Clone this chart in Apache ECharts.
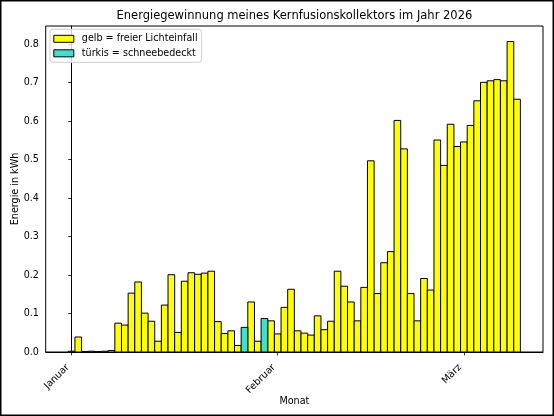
<!DOCTYPE html>
<html>
<head>
<meta charset="utf-8">
<script src="https://cdn.jsdelivr.net/npm/echarts@6/dist/echarts.min.js"></script>
<style>
html, body { margin: 0; padding: 0; background: #fff; }
#chart { width: 554px; height: 416px; }
</style>
</head>
<body>
<div id="chart"></div>
<script>
// Tag 0 = 1. Januar 2026, ein Balken pro Tag bis 9. März
var gelbWerte = [
  0.002, 0.039, 0.001, 0.002, 0.001, 0.002, 0.004, 0.075, 0.070, 0.153,
  0.182, 0.101, 0.080, 0.028, 0.122, 0.201, 0.051, 0.184, 0.206, 0.202,
  0.205, 0.210, 0.079, 0.048, 0.055, 0.017, null, 0.130, 0.028, null,
  0.081, 0.047, 0.116, 0.163, 0.055, 0.049, 0.044, 0.094, 0.058, 0.080,
  0.210, 0.171, 0.130, 0.081, 0.168, 0.497, 0.152, 0.232, 0.261, 0.602,
  0.528, 0.152, 0.081, 0.191, 0.161, 0.551, 0.485, 0.592, 0.534, 0.546,
  0.589, 0.653, 0.701, 0.705, 0.708, 0.705, 0.807, 0.657
];
var tuerkisTage = [26, 29];
var tuerkisWerte = [0.064, 0.087];

var monatTicks = [0, 31, 59];
var monatNamen = ['Januar', 'Februar', 'März'];
var yTicks = [0, 0.1, 0.2, 0.3, 0.4, 0.5, 0.6, 0.7, 0.8];

var font = 'DejaVu Sans';

var gelbDaten = [];
gelbWerte.forEach(function (v, i) {
  if (v !== null) gelbDaten.push([i, v]);
});
var tuerkisDaten = tuerkisTage.map(function (t, i) {
  return [t, tuerkisWerte[i]];
});

// ein Balken ueber genau einen Tag, von 0 bis Wert
function tagesBalken(farbe) {
  return function (params, api) {
    var tag = api.value(0);
    var unten = api.coord([tag - 0.5, 0]);
    var oben = api.coord([tag + 0.5, api.value(1)]);
    return {
      type: 'rect',
      shape: { x: unten[0], y: oben[1], width: oben[0] - unten[0], height: unten[1] - oben[1] },
      style: { fill: farbe, stroke: '#000', lineWidth: 1 }
    };
  };
}

var chart = echarts.init(document.getElementById('chart'));

chart.setOption({
  animation: false,
  backgroundColor: '#fff',
  textStyle: { fontFamily: font },
  graphic: [{
    type: 'rect',
    shape: { x: 0.75, y: 0.75, width: 552.5, height: 414.5 },
    style: { fill: 'none', stroke: '#000', lineWidth: 1.5 },
    silent: true
  }, {
    type: 'text',
    x: 294.4,
    y: 16.5,
    style: {
      text: 'Energiegewinnung meines Kernfusionskollektors im Jahr 2026',
      fontFamily: font,
      fontSize: 11.5,
      fill: '#000',
      align: 'center',
      verticalAlign: 'middle'
    },
    silent: true
  }],
  legend: {
    orient: 'vertical',
    left: 50,
    top: 29.3,
    padding: [4.5, 4, 4, 3.3],
    itemWidth: 20,
    itemHeight: 7,
    itemGap: 4.5,
    icon: 'rect',
    backgroundColor: 'rgba(255,255,255,0.8)',
    borderColor: '#d0d0d0',
    borderWidth: 1,
    borderRadius: 3,
    itemStyle: { borderColor: '#000', borderWidth: 1 },
    textStyle: { fontFamily: font, fontSize: 9.6, color: '#000', padding: [0, 0, 0, 3] },
    data: ['gelb = freier Lichteinfall', 'türkis = schneebedeckt']
  },
  grid: {
    left: 45.7,
    right: 11,
    top: 26,
    bottom: 64,
    outerBoundsMode: 'none',
    containLabel: false,
    show: true,
    borderColor: '#000',
    borderWidth: 1,
    backgroundColor: 'transparent'
  },
  xAxis: {
    type: 'value',
    min: -3.9,
    max: 70.9,
    name: 'Monat',
    nameLocation: 'middle',
    nameGap: 44,
    nameMoveOverlap: false,
    nameTextStyle: { fontFamily: font, fontSize: 9.6, color: '#000' },
    axisLine: { show: true, lineStyle: { color: '#000', width: 1 } },
    axisTick: { show: true, length: 3.4, customValues: monatTicks, lineStyle: { color: '#000', width: 0.8 } },
    axisLabel: {
      customValues: monatTicks,
      rotate: 45,
      margin: 10,
      padding: [0, 5.5, 6, 0],
      fontFamily: font,
      fontSize: 9.6,
      color: '#000',
      formatter: function (v) {
        var idx = monatTicks.indexOf(Math.round(v));
        return idx >= 0 ? monatNamen[idx] : '';
      }
    },
    splitLine: { show: false }
  },
  yAxis: {
    type: 'value',
    min: 0,
    max: 0.8474,
    name: 'Energie in kWh',
    nameLocation: 'middle',
    nameGap: 25,
    nameMoveOverlap: false,
    nameTextStyle: { fontFamily: font, fontSize: 9.6, color: '#000' },
    axisLine: { show: true, lineStyle: { color: '#000', width: 1 } },
    axisTick: { show: true, length: 3.4, customValues: yTicks, lineStyle: { color: '#000', width: 0.8 } },
    axisLabel: {
      customValues: yTicks,
      margin: 6.8,
      fontFamily: font,
      fontSize: 9.6,
      color: '#000',
      formatter: function (v) { return v.toFixed(1); }
    },
    splitLine: { show: false }
  },
  series: [{
    name: 'gelb = freier Lichteinfall',
    type: 'custom',
    data: gelbDaten,
    encode: { x: 0, y: 1 },
    itemStyle: { color: '#ffff00' },
    renderItem: tagesBalken('#ffff00')
  }, {
    name: 'türkis = schneebedeckt',
    type: 'custom',
    data: tuerkisDaten,
    encode: { x: 0, y: 1 },
    itemStyle: { color: '#40e0d0' },
    renderItem: tagesBalken('#40e0d0')
  }]
});
</script>
</body>
</html>
